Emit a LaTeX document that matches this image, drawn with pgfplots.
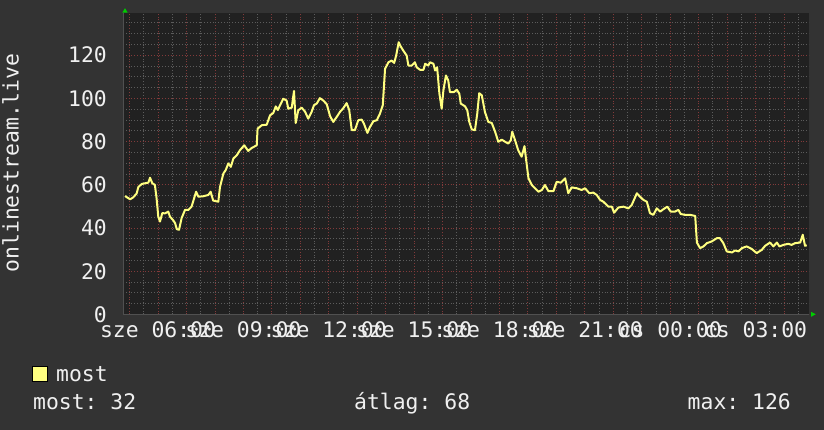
\documentclass[border=0pt]{standalone}
\usepackage{fontspec}
\setmainfont{DejaVu Sans Mono}
\usepackage{pgfplots}
\pgfplotsset{compat=1.18}
\frenchspacing
\definecolor{outerbg}{RGB}{51,51,51}
\definecolor{plotbg}{RGB}{33,33,33}
\definecolor{mingrid}{RGB}{92,92,92}
\definecolor{majgrid}{RGB}{130,58,58}
\definecolor{axisc}{RGB}{80,80,80}
\definecolor{txt}{RGB}{240,240,240}
\definecolor{lineyel}{RGB}{255,255,128}
\definecolor{arrowgr}{RGB}{0,204,0}
\newcommand\rf{\fontsize{21.4}{24}\selectfont}
\begin{document}
\begin{tikzpicture}
\fill[outerbg] (0,0) rectangle (824pt,430pt);
\path[use as bounding box] (0,0) rectangle (824pt,430pt);
\begin{axis}[
  at={(123pt,115.5pt)}, anchor=south west, scale only axis,
  width=686pt, height=301.5pt,
  xmin=4.77, xmax=28.88, ymin=0, ymax=139.5,
  axis background/.style={fill=plotbg},
  axis x line*=bottom, axis y line*=left,
  axis line style={draw=axisc, line width=0.8pt},
  xtick={5,...,28},
  xticklabels={,sze 06:00,,,sze 09:00,,,sze 12:00,,,sze 15:00,,,sze 18:00,,,sze 21:00,,,cs 00:00,,,cs 03:00,},
  minor xtick={5.5,6.5,...,28.5},
  ytick={0,20,...,120},
  minor ytick={5,10,...,135},
  grid=both,
  major grid style={majgrid, dash pattern=on 1pt off 1.8pt, line width=0.8pt},
  minor grid style={mingrid, dash pattern=on 1pt off 1.8pt, line width=0.8pt},
  tick style={draw=none},
  tick label style={font=\rf, text=txt, inner sep=0pt},
  xticklabel style={anchor=base, yshift=-23.5pt},
  yticklabel style={anchor=east, xshift=-16pt},
  /pgf/number format/assume math mode=true,
]
\addplot[lineyel, line width=2pt, line join=round] coordinates {
(4.84,54.8) (5.02,53.3) (5.13,54.2) (5.25,56) (5.31,59) (5.43,60.4) (5.54,60.7)
(5.66,61) (5.72,63.3) (5.80,60.7) (5.89,60) (5.95,53.8) (6.01,45.3) (6.07,43)
(6.15,46.9) (6.25,46.8) (6.36,47.6) (6.42,45.3) (6.54,43.5) (6.60,42.3) (6.66,39.5)
(6.74,39.2) (6.83,44.6) (6.95,48.4) (7.07,48.4) (7.18,49.9) (7.34,56.8) (7.42,54.5)
(7.59,54.7) (7.77,55.3) (7.85,56.8) (7.94,52.7) (8.12,52.2) (8.18,59.1) (8.30,65.3)
(8.38,66.8) (8.47,69.9) (8.56,68.3) (8.65,72.2) (8.77,73.7) (8.88,76) (9.03,78.3)
(9.17,75.7) (9.29,77) (9.47,78.3) (9.50,86) (9.65,87.6) (9.82,87.8) (9.94,92.2)
(10.05,93.2) (10.14,96.3) (10.21,94.6) (10.29,96.8) (10.40,99.8) (10.52,99)
(10.58,95.2) (10.70,95.7) (10.78,103.4) (10.84,88.6) (10.93,94.5) (11.05,95.7)
(11.17,93.8) (11.28,90.6) (11.40,93.8) (11.48,96.8) (11.58,97.6) (11.69,100.1)
(11.81,99) (11.93,97.3) (12.05,91.7) (12.16,89.1) (12.28,91.4) (12.40,93.8)
(12.51,95.4) (12.63,97.8) (12.72,94.6) (12.81,85.3) (12.92,85.3) (13.04,89.9)
(13.16,90.2) (13.24,88.2) (13.36,84) (13.45,86.8) (13.57,89.4) (13.69,89.9)
(13.80,92.9) (13.90,96.8) (13.98,113.7) (14.10,116.7) (14.21,117.5) (14.30,116.4)
(14.37,119.8) (14.46,126) (14.51,124.5) (14.62,122.1) (14.74,119.8) (14.80,115.2)
(14.92,115.2) (15.03,116.7) (15.09,114.4) (15.21,113.2) (15.33,113.2) (15.39,116)
(15.50,115.2) (15.56,116.7) (15.68,116) (15.74,112.9) (15.81,114.4) (15.89,102.2)
(15.97,95.2) (16.03,103.7) (16.12,110.6) (16.20,108.3) (16.26,102.9) (16.40,102.9)
(16.50,104) (16.59,102.2) (16.64,97.6) (16.79,96.3) (16.87,94.5) (16.94,89.1)
(17.03,85.6) (17.14,85.3) (17.22,92.9) (17.29,102.4) (17.38,101.4) (17.49,93.7)
(17.61,89.1) (17.73,88.6) (17.85,84.5) (17.96,79.9) (18.08,80.9) (18.20,79.9)
(18.31,79.1) (18.40,80.6) (18.45,84.5) (18.55,80.6) (18.66,76) (18.78,73)
(18.88,77.9) (18.94,71.4) (19.02,63) (19.14,59.9) (19.25,58.4) (19.37,56.8)
(19.49,57.6) (19.60,59.9) (19.72,57.1) (19.90,57.1) (20.01,61.4) (20.16,61)
(20.31,63) (20.42,56.1) (20.54,58.8) (20.72,58.4) (20.89,57.6) (21.01,58.4)
(21.16,56.1) (21.30,56.4) (21.42,55.3) (21.54,53) (21.65,52.2) (21.83,49.9)
(21.95,49.9) (22.03,47.1) (22.18,49.5) (22.36,49.9) (22.53,49.1) (22.65,50.7)
(22.83,56.1) (22.94,54.5) (23.06,53) (23.18,52.2) (23.29,46.9) (23.41,46.1)
(23.53,49.1) (23.65,47.6) (23.76,48.7) (23.90,49.9) (24.02,47.6) (24.17,47.6)
(24.29,48.4) (24.37,46.5) (24.52,46.1) (24.70,46.1) (24.88,45.6) (24.94,33.3)
(25.05,30.7) (25.17,31.5) (25.29,33) (25.46,33.8) (25.64,35.3) (25.75,35.3)
(25.87,33) (25.99,29.2) (26.17,28.7) (26.28,29.6) (26.40,29.2) (26.52,30.7)
(26.69,31.5) (26.87,30.3) (27.04,28.4) (27.22,29.9) (27.34,31.8) (27.51,33.3)
(27.63,31.5) (27.75,33.3) (27.84,31.5) (27.98,32.2) (28.15,32.7) (28.27,32.2)
(28.39,33) (28.57,33.3) (28.66,36.9) (28.74,31.8) (28.80,32)
};
\end{axis}
% axis arrow heads
\fill[arrowgr] (122.3pt,417.3pt) -- (127.7pt,417.3pt) -- (125pt,421.8pt) -- cycle;
\fill[arrowgr] (811pt,113.2pt) -- (811pt,118.2pt) -- (815.8pt,115.7pt) -- cycle;
% vertical title
\node[rotate=90, anchor=base, inner sep=0pt, text=txt, font=\rf] at (18.5pt,267pt) {onlinestream.live};
% legend
\filldraw[fill=lineyel, draw=black, line width=0.8pt] (32pt,48.5pt) rectangle (47pt,64pt);
\node[anchor=base west, inner sep=0pt, text=txt, font=\rf] at (56pt,48pt) {most};
\node[anchor=base west, inner sep=0pt, text=txt, font=\rf] at (33pt,20pt) {most: 32};
\node[anchor=base west, inner sep=0pt, text=txt, font=\rf] at (354pt,20pt) {átlag: 68};
\node[anchor=base east, inner sep=0pt, text=txt, font=\rf] at (791pt,20pt) {max: 126};
\end{tikzpicture}
\end{document}
